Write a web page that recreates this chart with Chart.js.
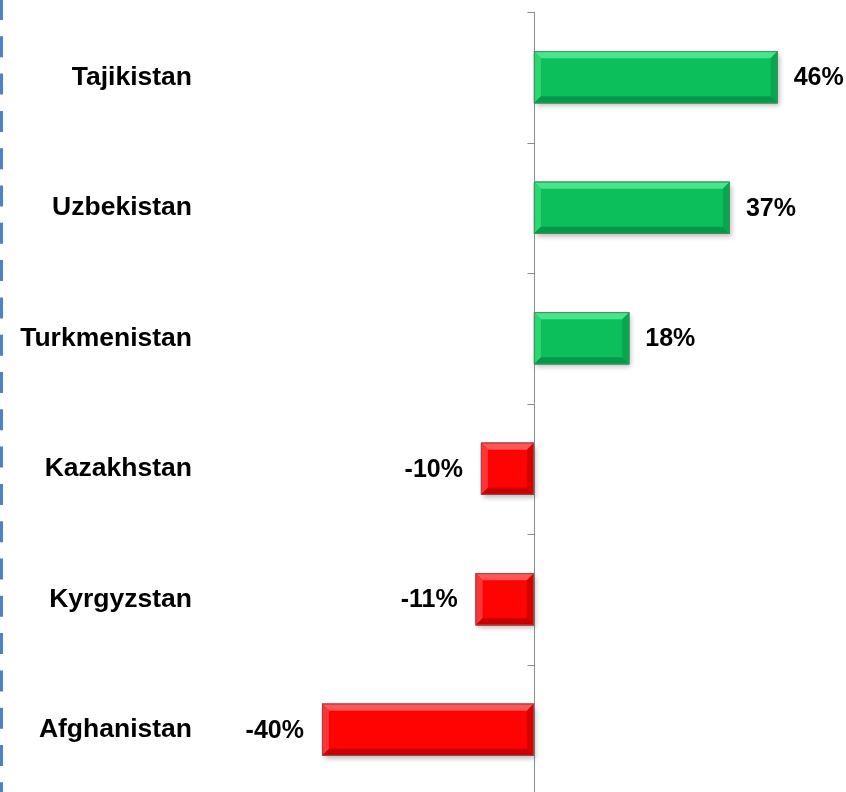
<!DOCTYPE html>
<html>
<head>
<meta charset="utf-8">
<script src="https://cdn.jsdelivr.net/npm/chart.js@4/dist/chart.umd.min.js"></script>
<style>
    html, body { margin: 0; padding: 0; background: #fff; overflow: hidden; }
    #wrap { position: relative; width: 846px; height: 800px; }
</style>
</head>
<body>
<div id="wrap"><canvas id="chart1"></canvas></div>
<script>
    // datos del grafico
    var countries = ['Tajikistan', 'Uzbekistan', 'Turkmenistan', 'Kazakhstan', 'Kyrgyzstan', 'Afghanistan'];
    var changes = [46, 37, 18, -10, -11, -40]; // variacion en %

    var FONT = '"Liberation Sans", Arial, sans-serif';

    // colores: verde para positivos, rojo para negativos
    function palette(v) {
        if (v >= 0) return { base: '#0cbf5b', top: '#46e68c', left: '#2cd673', bottom: '#06984a', right: '#07a64f', edge: '#4a8a62' };
        return { base: '#ff0202', top: '#ff5656', left: '#ff3434', bottom: '#c40000', right: '#d80000', edge: '#9a4a4a' };
    }

    function barRect(el) {
        var p = el.getProps(['x', 'y', 'base', 'height'], true);
        return {
            left: Math.min(p.x, p.base), right: Math.max(p.x, p.base),
            top: p.y - p.height / 2, bottom: p.y + p.height / 2, x: p.x, y: p.y
        };
    }

    // borde azul punteado a la izquierda
    var borderPlugin = {
        id: 'borderLeft',
        beforeDraw: function (chart) {
            var ctx = chart.ctx;
            ctx.save();
            ctx.strokeStyle = '#4f81c7';
            ctx.lineWidth = 3;
            ctx.setLineDash([21, 16.3]);
            ctx.beginPath();
            ctx.moveTo(1.5, -1);
            ctx.lineTo(1.5, chart.height);
            ctx.stroke();
            ctx.restore();
        }
    };

    // eje vertical en cero con marcas entre categorias
    var zeroAxis = {
        id: 'zeroAxis',
        beforeDatasetsDraw: function (chart) {
            var ctx = chart.ctx, xs = chart.scales.x, ys = chart.scales.y;
            var x0 = Math.round(xs.getPixelForValue(0)) + 0.5;
            ctx.save();
            ctx.strokeStyle = '#8c8c8c';
            ctx.lineWidth = 1;
            ctx.beginPath();
            ctx.moveTo(x0, chart.chartArea.top);
            ctx.lineTo(x0, chart.chartArea.bottom);
            for (var i = 0; i <= countries.length; i++) {
                var yy = Math.round(ys.getPixelForValue(i - 0.5)) + 0.5;
                ctx.moveTo(x0 - 7, yy);
                ctx.lineTo(x0, yy);
            }
            ctx.stroke();

            // sombra de las barras
            var meta = chart.getDatasetMeta(0);
            meta.data.forEach(function (el) {
                var r = barRect(el);
                ctx.save();
                ctx.shadowColor = 'rgba(0,0,0,0.45)';
                ctx.shadowBlur = 5;
                ctx.shadowOffsetX = 2;
                ctx.shadowOffsetY = 3;
                ctx.fillStyle = 'rgba(120,120,120,0.6)';
                ctx.fillRect(r.left, r.top, r.right - r.left, r.bottom - r.top);
                ctx.restore();
            });
            ctx.restore();
        }
    };

    // efecto biselado + etiquetas de valor
    var bevelLabels = {
        id: 'bevelLabels',
        afterDatasetsDraw: function (chart) {
            var ctx = chart.ctx;
            var meta = chart.getDatasetMeta(0);
            meta.data.forEach(function (el, i) {
                var r = barRect(el);
                var c = palette(changes[i]);
                var b = 7;
                var w = r.right - r.left, h = r.bottom - r.top;
                ctx.save();
                ctx.fillStyle = c.base;
                ctx.fillRect(r.left, r.top, w, h);
                // arriba
                ctx.fillStyle = c.top;
                ctx.beginPath();
                ctx.moveTo(r.left, r.top); ctx.lineTo(r.right, r.top);
                ctx.lineTo(r.right - b, r.top + b); ctx.lineTo(r.left + b, r.top + b);
                ctx.closePath(); ctx.fill();
                // izquierda
                ctx.fillStyle = c.left;
                ctx.beginPath();
                ctx.moveTo(r.left, r.top); ctx.lineTo(r.left + b, r.top + b);
                ctx.lineTo(r.left + b, r.bottom - b); ctx.lineTo(r.left, r.bottom);
                ctx.closePath(); ctx.fill();
                // abajo
                ctx.fillStyle = c.bottom;
                ctx.beginPath();
                ctx.moveTo(r.left, r.bottom); ctx.lineTo(r.right, r.bottom);
                ctx.lineTo(r.right - b, r.bottom - b); ctx.lineTo(r.left + b, r.bottom - b);
                ctx.closePath(); ctx.fill();
                // derecha
                ctx.fillStyle = c.right;
                ctx.beginPath();
                ctx.moveTo(r.right, r.top); ctx.lineTo(r.right - b, r.top + b);
                ctx.lineTo(r.right - b, r.bottom - b); ctx.lineTo(r.right, r.bottom);
                ctx.closePath(); ctx.fill();
                ctx.strokeStyle = c.edge;
                ctx.lineWidth = 1;
                ctx.strokeRect(r.left + 0.5, r.top + 0.5, w - 1, h - 1);
                ctx.restore();

                // etiqueta
                ctx.save();
                ctx.font = 'bold 25px ' + FONT;
                ctx.fillStyle = '#000';
                ctx.textBaseline = 'middle';
                if (changes[i] >= 0) {
                    ctx.textAlign = 'left';
                    ctx.fillText(changes[i] + '%', r.right + 16, r.y + 1);
                } else {
                    ctx.textAlign = 'right';
                    ctx.fillText(changes[i] + '%', r.left - 18, r.y + 1);
                }
                ctx.restore();
            });
        }
    };

    var ctx1 = document.getElementById('chart1').getContext('2d');
    var chart1 = new Chart(ctx1, {
        type: 'bar',
        data: {
            labels: countries,
            datasets: [{
                data: changes,
                backgroundColor: changes.map(function (v) { return palette(v).base; }),
                borderWidth: 0,
                barPercentage: 0.4,
                categoryPercentage: 1
            }]
        },
        options: {
            indexAxis: 'y',
            responsive: true,
            maintainAspectRatio: false,
            animation: false,
            layout: { padding: { top: 12, bottom: 5, left: 0, right: 0 } },
            plugins: {
                legend: { display: false },
                tooltip: { enabled: false }
            },
            scales: {
                x: {
                    display: false,
                    min: -60,
                    max: 58.9
                },
                y: {
                    grid: { display: false, drawTicks: false },
                    border: { display: false },
                    ticks: {
                        color: '#000',
                        padding: 24,
                        font: { family: FONT, size: 26.5, weight: 'bold' }
                    },
                    afterFit: function (scale) {
                        scale.width = 216;
                        scale.paddingTop = 0;
                        scale.paddingBottom = 0;
                    }
                }
            }
        },
        plugins: [borderPlugin, zeroAxis, bevelLabels]
    });
</script>
</body>
</html>
